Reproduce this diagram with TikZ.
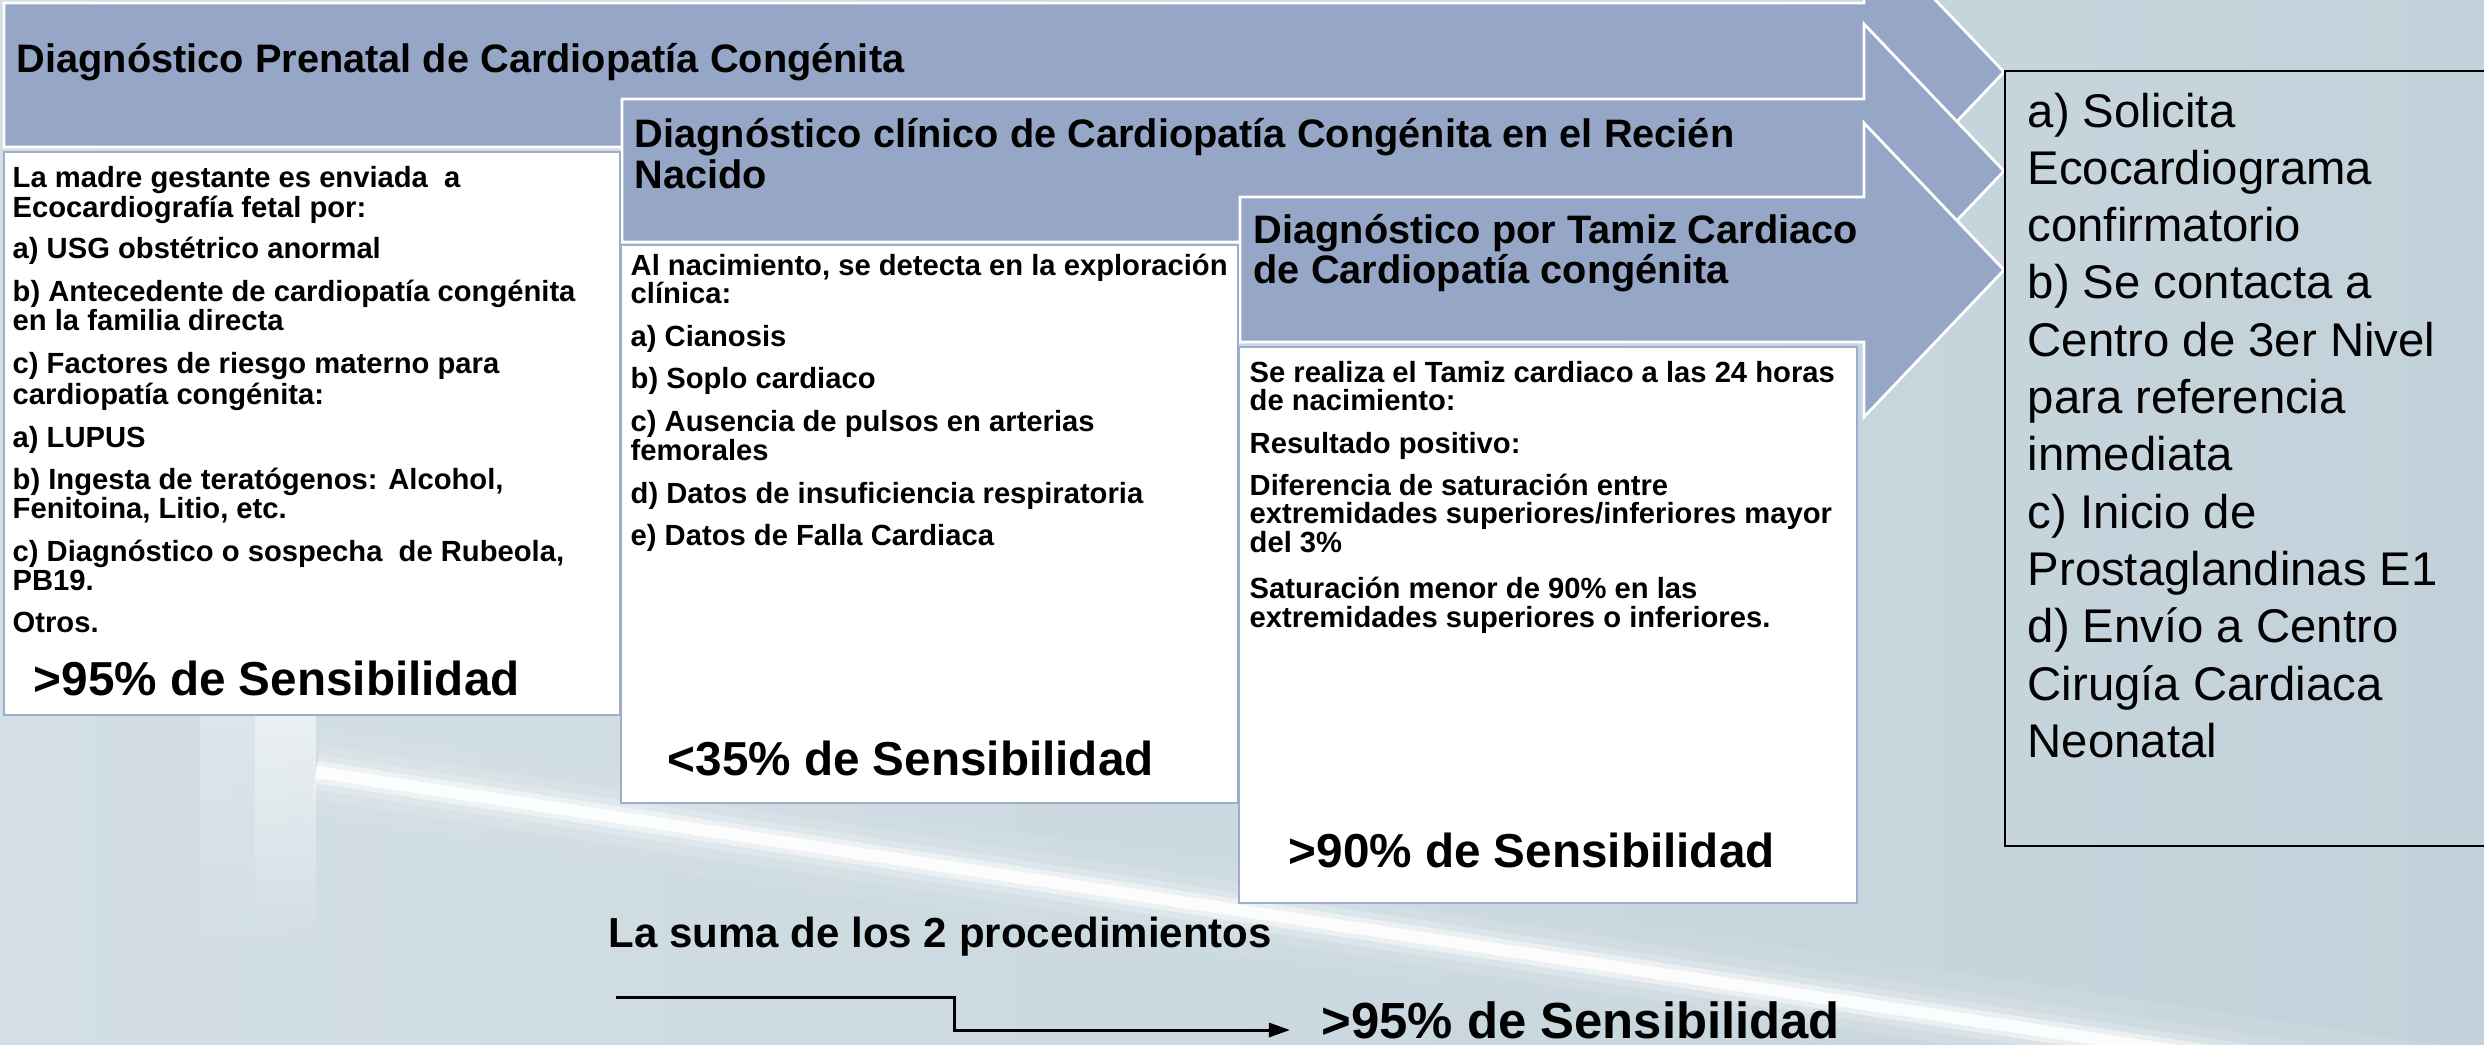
\documentclass[tikz,border=0pt]{standalone}
\usepackage{fontspec}
\setmainfont{Liberation Sans}
\usepackage{tikz}
\usetikzlibrary{arrows.meta, fadings}

\definecolor{bgleft}{HTML}{D3DFE5}
\definecolor{bgright}{HTML}{C3D2DA}
\definecolor{stagefill}{HTML}{95A6C7}
\definecolor{panelline}{HTML}{9DADCB}

\tikzfading[name=fadedown, top color=transparent!0, bottom color=transparent!100]

\tikzset{
  stage/.style={fill=stagefill, draw=white, line width=0.8pt, line join=miter},
  panel/.style={fill=white, draw=panelline, line width=0.6pt},
  small/.style={anchor=base west, inner sep=0pt, font=\fontsize{8.3pt}{9pt}\selectfont\bfseries},
  head/.style={anchor=base west, inner sep=0pt, font=\fontsize{11.3pt}{12pt}\selectfont\bfseries},
  sens/.style={anchor=base west, inner sep=0pt, font=\fontsize{13.55pt}{15pt}\selectfont\bfseries},
  plan/.style={anchor=base west, inner sep=0pt, font=\fontsize{13.45pt}{15pt}\selectfont},
}

\begin{document}
\begin{tikzpicture}[x=0.01cm, y=-0.01cm, >={Triangle[length=6pt, width=4pt]}]
\clip (0,0) rectangle (2484,1044);
\shade[left color=bgleft, right color=bgright] (0,0) rectangle (2484,1044);
% vertical beam
\fill[white, opacity=0.25, path fading=fadedown] (200,700) rectangle (316,960);
\fill[white, opacity=0.45, path fading=fadedown] (255,700) rectangle (316,940);
% light streak
\foreach \w/\o in {90/0.07, 55/0.12, 35/0.22, 22/0.45, 12/0.85}
  \draw[white, opacity=\o, line width=\w*0.2845pt] (316,772) -- (2484,1097);

% the three stages
\foreach \l/\t/\b/\c in {4/3/147/72, 622/99/242/171, 1240/197/342/270}
  \draw[stage] (\l,\t) -- (1864,\t) -- (1864,\c-147) -- (2004,\c)
    -- (1864,\c+147) -- (1864,\b) -- (\l,\b) -- cycle;

% panels
\draw[panel] (4,152) rectangle (620,715);
\draw[panel] (621,245) rectangle (1238,803);
\draw[panel] (1239,347) rectangle (1857,903);
\draw[black, line width=0.5pt] (2005,71) rectangle (2495,846);

% titles
\node[head] (tpre) at (16,72) {Diagnóstico Prenatal de Cardiopatía Congénita};
\node[head] (tcli) at (634,147) {Diagnóstico clínico de Cardiopatía Congénita en el Recién};
\node[head] (tcli2) at (634,188) {Nacido};
\node[head] (ttam) at (1253,243) {Diagnóstico por Tamiz Cardiaco};
\node[head] (ttam2) at (1253,283) {de Cardiopatía congénita};

% prenatal
\foreach \y/\t [count=\i] in {187/{La madre gestante es enviada~ a},
    217/{Ecocardiografía fetal por:}, 258/{a) USG obstétrico anormal},
    301/{b) Antecedente de cardiopatía congénita}, 330/{en la familia directa},
    373/{c) Factores de riesgo materno para}, 404/{cardiopatía congénita:},
    447/{a) LUPUS}, 489/{b) Ingesta de teratógenos: Alcohol,},
    518/{Fenitoina, Litio, etc.}, 561/{c) Diagnóstico o sospecha~ de Rubeola,},
    590/{PB19.}, 632/{Otros.}}
  \node[small] (pre-\i) at (12,\y) {\t};
\node[sens] (spre) at (33,695) {>95\% de Sensibilidad};

% clinico
\foreach \y/\t [count=\i] in {275/{Al nacimiento, se detecta en la exploración},
    303/{clínica:}, 346/{a) Cianosis}, 388/{b) Soplo cardiaco},
    431/{c) Ausencia de pulsos en arterias}, 460/{femorales},
    503/{d) Datos de insuficiencia respiratoria}, 545/{e) Datos de Falla Cardiaca}}
  \node[small] (cli-\i) at (630,\y) {\t};
\node[sens] (scli) at (667,775) {<35\% de Sensibilidad};

% tamiz
\foreach \y/\t [count=\i] in {382/{Se realiza el Tamiz cardiaco a las 24 horas},
    410/{de nacimiento:}, 453/{Resultado positivo:},
    495/{Diferencia de saturación entre},
    523/{extremidades superiores/inferiores mayor}, 552/{del 3\%},
    598/{Saturación menor de 90\% en las},
    627/{extremidades superiores o inferiores.}}
  \node[small] (tam-\i) at (1249,\y) {\t};
\node[sens] (stam) at (1288,867) {>90\% de Sensibilidad};

% acciones
\foreach \t [count=\i] in {{a) Solicita}, {Ecocardiograma}, {confirmatorio},
    {b) Se contacta a}, {Centro de 3er Nivel}, {para referencia}, {inmediata},
    {c) Inicio de}, {Prostaglandinas E1}, {d) Envío a Centro},
    {Cirugía Cardiaca}, {Neonatal}}
  \node[plan] (acc-\i) at (2027,{127+57.3*(\i-1)}) {\t};

% suma
\node[anchor=base west, inner sep=0pt, font=\fontsize{11.95pt}{13pt}\selectfont\bfseries]
  (suma) at (608,947) {La suma de los 2 procedimientos};
\node[sens, font=\fontsize{14.45pt}{16pt}\selectfont\bfseries] (total) at (1321,1038)
  {>95\% de Sensibilidad};
\coordinate (s0) at (616,997);
\coordinate (s1) at (954,1030);
\coordinate (s2) at (1290,1030);
\draw[->, line width=0.85pt] (s0) -| (s1) -- (s2);
\end{tikzpicture}
\end{document}
